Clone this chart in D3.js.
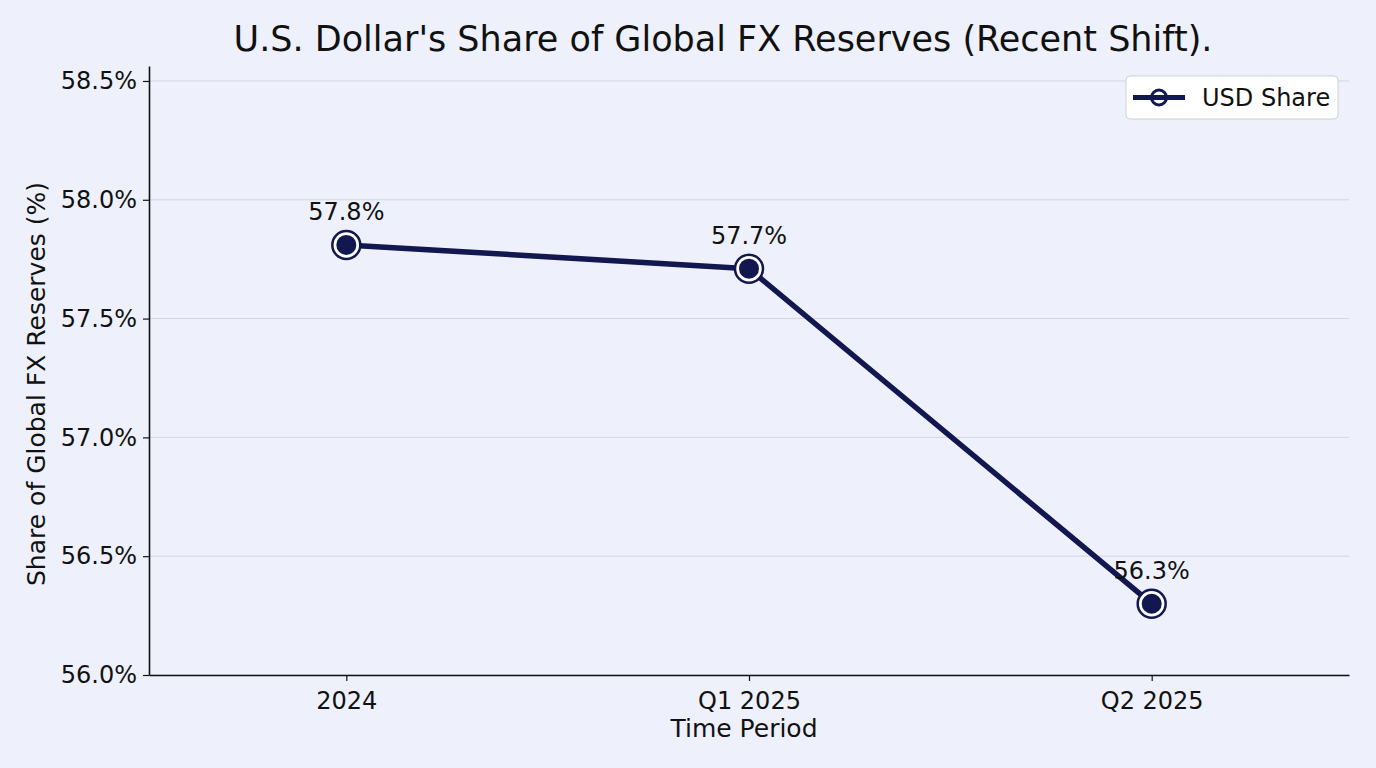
<!DOCTYPE html>
<html>
<head>
<meta charset="utf-8">
<script src="https://cdn.jsdelivr.net/npm/d3@7"></script>
<style>
  body { margin: 0; background: #eef1fb; }
  svg { font-family: "DejaVu Sans", sans-serif; }
</style>
</head>
<body>
<script>
// data
const periods = ["2024", "Q1 2025", "Q2 2025"];
const usdShare = [57.81, 57.71, 56.30];
const shareLabels = ["57.8%", "57.7%", "56.3%"];
const yTicks = [56.0, 56.5, 57.0, 57.5, 58.0, 58.5];

const width = 1376, height = 768;
const margin = {top: 66, right: 27, bottom: 93, left: 149};
const navy = "#12174f";

const svg = d3.select("body")
  .append("svg")
  .attr("width", width)
  .attr("height", height);

svg.append("rect")
  .attr("width", width)
  .attr("height", height)
  .attr("fill", "#eef1fb");

const x = d3.scalePoint()
  .domain(periods)
  .range([margin.left, width - margin.right])
  .padding(0.49);

const y = d3.scaleLinear()
  .domain([56.0, 58.563])
  .range([height - margin.bottom, margin.top]);

// grid
svg.append("g")
  .selectAll("line")
  .data(yTicks)
  .join("line")
  .attr("x1", margin.left)
  .attr("x2", width - margin.right)
  .attr("y1", d => y(d))
  .attr("y2", d => y(d))
  .attr("stroke", "#d3d6e2")
  .attr("stroke-width", 1);

// axes
const yAxis = svg.append("g")
  .attr("transform", `translate(${margin.left},0)`)
  .call(d3.axisLeft(y).tickValues(yTicks).tickFormat(d => d.toFixed(1) + "%")
    .tickSize(6).tickSizeOuter(0).tickPadding(6));

const xAxis = svg.append("g")
  .attr("transform", `translate(0,${height - margin.bottom})`)
  .call(d3.axisBottom(x).tickSize(6).tickSizeOuter(0).tickPadding(6));

[yAxis, xAxis].forEach(g => {
  g.select(".domain").attr("stroke", "#111").attr("stroke-width", 1.6);
  g.selectAll(".tick line").attr("stroke", "#111").attr("stroke-width", 1.2);
  g.selectAll(".tick text")
    .attr("fill", "#111")
    .style("font-size", "24px")
    .style("font-family", "DejaVu Sans, sans-serif");
});
xAxis.selectAll(".tick text").attr("dy", "0.9em");

// line
const pts = periods.map((p, i) => ({p, v: usdShare[i], label: shareLabels[i]}));

svg.append("path")
  .datum(pts)
  .attr("fill", "none")
  .attr("stroke", navy)
  .attr("stroke-width", 5.5)
  .attr("stroke-linejoin", "round")
  .attr("d", d3.line().x(d => x(d.p)).y(d => y(d.v)));

const marks = svg.append("g").selectAll("g")
  .data(pts)
  .join("g")
  .attr("transform", d => `translate(${x(d.p)},${y(d.v)})`);

marks.append("circle")
  .attr("r", 14)
  .attr("fill", "#fff")
  .attr("stroke", navy)
  .attr("stroke-width", 2.5);

marks.append("circle")
  .attr("r", 10)
  .attr("fill", navy);

marks.append("text")
  .attr("y", -25)
  .attr("text-anchor", "middle")
  .attr("fill", "#111")
  .style("font-size", "24px")
  .text(d => d.label);

// title and axis labels
svg.append("text")
  .attr("x", 723)
  .attr("y", 51)
  .attr("text-anchor", "middle")
  .attr("fill", "#111")
  .style("font-size", "35px")
  .text("U.S. Dollar's Share of Global FX Reserves (Recent Shift).");

svg.append("text")
  .attr("x", 744)
  .attr("y", 737)
  .attr("text-anchor", "middle")
  .attr("fill", "#111")
  .style("font-size", "25px")
  .text("Time Period");

svg.append("text")
  .attr("transform", "translate(45,384) rotate(-90)")
  .attr("text-anchor", "middle")
  .attr("fill", "#111")
  .style("font-size", "25px")
  .text("Share of Global FX Reserves (%)");

// legend
const legend = svg.append("g").attr("transform", "translate(1126,76)");
legend.append("rect")
  .attr("width", 212)
  .attr("height", 43)
  .attr("rx", 4)
  .attr("fill", "#fff")
  .attr("stroke", "#d0d0d0");
legend.append("circle")
  .attr("cx", 33).attr("cy", 21.5)
  .attr("r", 7.5)
  .attr("fill", "#fff")
  .attr("stroke", navy)
  .attr("stroke-width", 3);
legend.append("line")
  .attr("x1", 7).attr("x2", 59)
  .attr("y1", 21.5).attr("y2", 21.5)
  .attr("stroke", navy)
  .attr("stroke-width", 5);
legend.append("text")
  .attr("x", 76)
  .attr("y", 30)
  .attr("fill", "#111")
  .style("font-size", "24px")
  .text("USD Share");
</script>
</body>
</html>
